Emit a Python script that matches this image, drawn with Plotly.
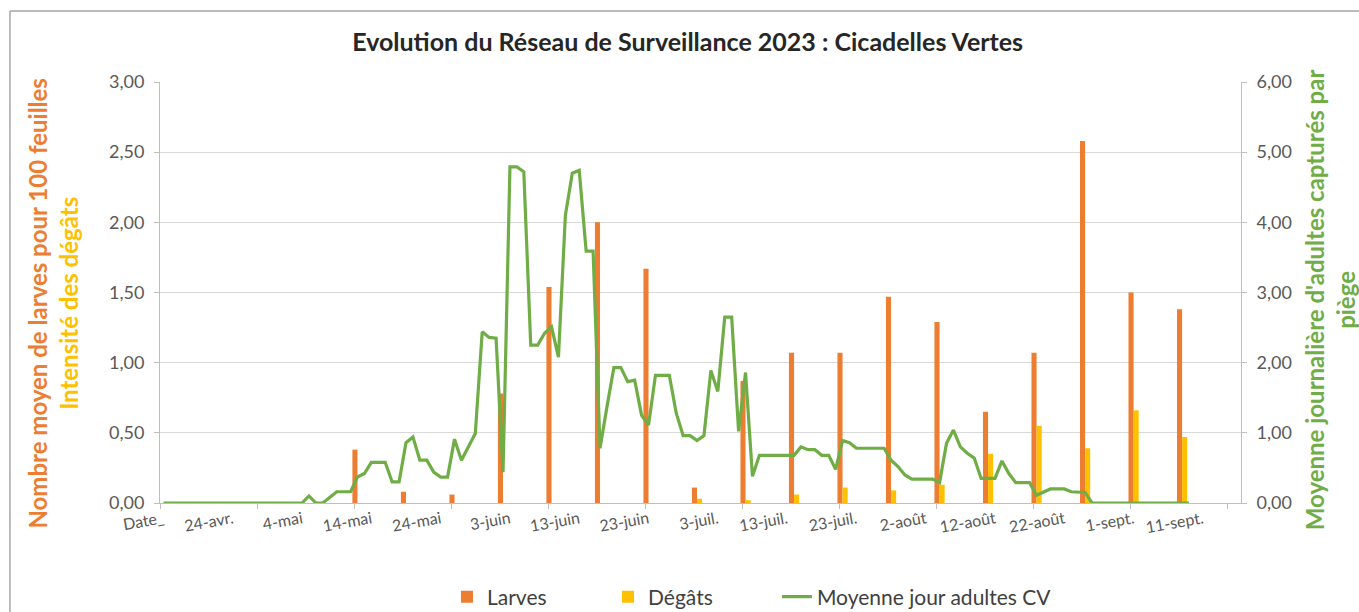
import pandas as pd
import plotly.graph_objects as go

# ---------------- data ----------------
# daily categories (first one shown as "Date_")
day_categories = pd.date_range("2023-04-14", "2023-09-16", freq="D")

tick_labels = ["Date_", "24-avr.", "4-mai", "14-mai", "24-mai", "3-juin", "13-juin",
               "23-juin", "3-juil.", "13-juil.", "23-juil.", "2-août", "12-août",
               "22-août", "1-sept.", "11-sept."]

obs_dates = ["2023-05-12", "2023-05-19", "2023-05-26", "2023-06-02", "2023-06-09",
             "2023-06-16", "2023-06-23", "2023-06-30", "2023-07-07", "2023-07-14",
             "2023-07-21", "2023-07-28", "2023-08-04", "2023-08-11", "2023-08-18",
             "2023-08-25", "2023-09-01", "2023-09-08"]

larves = [0.38, 0.08, 0.06, 0.78, 1.54, 2.00, 1.67, 0.11, 0.87, 1.07,
          1.07, 1.47, 1.29, 0.65, 1.07, 2.58, 1.50, 1.38]

degats = [0.0, 0.0, 0.0, 0.0, 0.0, 0.0, 0.0, 0.03, 0.02, 0.06,
          0.11, 0.09, 0.13, 0.35, 0.55, 0.39, 0.66, 0.47]

adultes_cv = [
    0, 0, 0, 0, 0, 0, 0, 0, 0, 0,                                   # 0-9
    0, 0, 0, 0, 0, 0, 0, 0, 0, 0,                                   # 10-19
    0.0, 0.10, 0.0, 0.0, 0.08, 0.16, 0.16, 0.16, 0.37, 0.42,        # 20-29
    0.58, 0.58, 0.58, 0.30, 0.30, 0.86, 0.94, 0.61, 0.61, 0.44,     # 30-39
    0.37, 0.37, 0.91, 0.61, 0.80, 0.99, 2.44, 2.36, 2.35, 0.44,     # 40-49
    4.79, 4.79, 4.72, 2.25, 2.25, 2.42, 2.51, 2.08, 4.10, 4.70,     # 50-59
    4.74, 3.59, 3.59, 0.78, 1.37, 1.93, 1.93, 1.73, 1.75, 1.25,     # 60-69
    1.11, 1.82, 1.82, 1.82, 1.28, 0.96, 0.96, 0.89, 0.96, 1.89,     # 70-79
    1.59, 2.65, 2.65, 1.02, 1.86, 0.38, 0.68, 0.68, 0.68, 0.68,     # 80-89
    0.68, 0.68, 0.80, 0.76, 0.76, 0.68, 0.68, 0.48, 0.89, 0.86,     # 90-99
    0.78, 0.78, 0.78, 0.78, 0.78, 0.61, 0.52, 0.40, 0.34, 0.34,     # 100-109
    0.34, 0.34, 0.29, 0.85, 1.04, 0.80, 0.71, 0.64, 0.35, 0.35,     # 110-119
    0.35, 0.60, 0.42, 0.29, 0.29, 0.29, 0.11, 0.16, 0.20, 0.20,     # 120-129
    0.20, 0.16, 0.16, 0.15, 0.0, 0.0, 0.0, 0.0, 0.0, 0.0,           # 130-139
    0.0, 0.0, 0.0, 0.0, 0.0, 0.0, 0.0, 0.0, 0.0,                    # 140-148
]

left_title_1 = "Nombre moyen de larves pour 100 feuilles"
left_title_2 = "Intensité des dégâts"
right_title = "Moyenne journalière d'adultes capturés par<br>piège"

# ---------------- styles ----------------
ORANGE = "#ED7D31"
YELLOW = "#FFC000"
GREEN = "#70AD47"
TXT = "#595959"
GRID = "#D9D9D9"
AXIS = "#BFBFBF"
FONT = "Lato"

fig = go.Figure()
fig.add_trace(go.Bar(name="Larves", x=obs_dates, y=larves, marker_color=ORANGE,
                     marker_line_width=0, yaxis="y", legend="legend", showlegend=True))
fig.add_trace(go.Bar(name="Dégâts", x=obs_dates, y=degats, marker_color=YELLOW,
                     marker_line_width=0, yaxis="y", legend="legend2", showlegend=True))
fig.add_trace(go.Scatter(name="Moyenne jour adultes CV",
                         x=day_categories[:len(adultes_cv)], y=adultes_cv,
                         mode="lines", line=dict(color=GREEN, width=3.2), yaxis="y2",
                         legend="legend3", showlegend=True))

tickvals = list(day_categories[::10])

leg_common = dict(orientation="h", xref="container", yref="container",
                  yanchor="middle", y=0.0245, xanchor="left",
                  font=dict(size=21, color="#404040", family=FONT),
                  bgcolor="rgba(0,0,0,0)", itemwidth=30, visible=True)

fig.update_layout(
    width=1359, height=612,
    margin=dict(l=160, r=118, t=82, b=109, autoexpand=False),
    paper_bgcolor="white", plot_bgcolor="white",
    separators=", ",
    showlegend=True,
    font=dict(family=FONT, color=TXT, size=18),
    barmode="group", bargap=0.79, bargroupgap=0,
    title=dict(text="<b>Evolution du Réseau de Surveillance 2023 : Cicadelles Vertes</b>",
               x=0.506, xanchor="center", y=0.931, yanchor="middle",
               font=dict(family=FONT, size=25, color="#262626")),
    xaxis=dict(
        type="date", automargin=False,
        range=["2023-04-13 12:00", "2023-09-16 12:00"],
        tickmode="array", tickvals=tickvals, ticktext=tick_labels,
        tickangle=-10, ticks="",
        tickfont=dict(size=16, color=TXT),
        showgrid=False, showline=True, linecolor=AXIS, linewidth=1,
        minor=dict(tick0="2023-04-13 12:00", dtick=14 * 86400000, ticks="outside",
                   ticklen=5, tickcolor=AXIS, showgrid=False),
        zeroline=False,
    ),
    yaxis=dict(
        range=[0, 3], dtick=0.5, tickformat=".2f", automargin=False,
        showgrid=True, gridcolor=GRID, gridwidth=1,
        showline=True, linecolor=AXIS, ticks="outside", ticklen=5, tickcolor=AXIS,
        ticklabelstandoff=6,
        tickfont=dict(size=18, color=TXT), zeroline=False,
    ),
    yaxis2=dict(
        range=[0, 6], dtick=1, tickformat=".2f", overlaying="y", side="right",
        automargin=False,
        showgrid=False, showline=True, linecolor=AXIS, ticks="outside", ticklen=5,
        tickcolor=AXIS, tickfont=dict(size=18, color=TXT), zeroline=False,
        ticklabelstandoff=6,
    ),
    legend=dict(leg_common, x=0.3289),
    legend2=dict(leg_common, x=0.4474),
    legend3=dict(leg_common, x=0.5717),
    annotations=[
        dict(text=f"<b><span style='color:{ORANGE}'>{left_title_1}</span><br>"
                  f"<span style='color:{YELLOW}'>{left_title_2}</span></b>",
             xref="paper", yref="paper", x=-0.0994, y=0.475, textangle=-90,
             xanchor="center", yanchor="middle", showarrow=False,
             font=dict(size=24, family=FONT)),
        dict(text=f"<b>{right_title}</b>",
             xref="paper", yref="paper", x=1.0825, y=0.482, textangle=-90,
             xanchor="center", yanchor="middle", showarrow=False,
             font=dict(size=24, family=FONT, color=GREEN)),
    ],
    shapes=[
        dict(type="line", xref="paper", yref="paper", x0=-0.1388, x1=1.2,
             y0=1.1686, y1=1.1686, line=dict(color="#A6A6A6", width=1.5)),
        dict(type="line", xref="paper", yref="paper", x0=-0.1388, x1=-0.1388,
             y0=1.1686, y1=-0.3, line=dict(color="#A6A6A6", width=1.5)),
    ],
)

fig.write_html("out.html", config={"displayModeBar": False},
               post_script="document.body.style.margin='0px';")
